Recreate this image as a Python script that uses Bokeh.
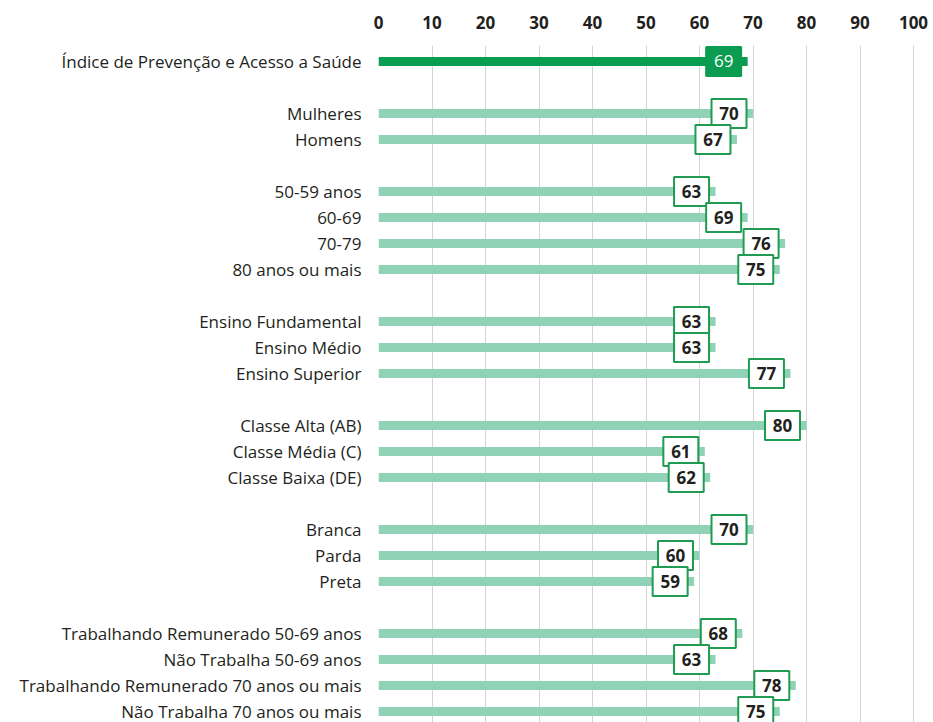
from bokeh.plotting import figure
from bokeh.models import Range1d, FixedTicker, ColumnDataSource
from bokeh.core.properties import value
from bokeh.embed import file_html
from bokeh.resources import INLINE

categories = [
    "Índice de Prevenção e Acesso a Saúde",
    "Mulheres", "Homens",
    "50-59 anos", "60-69", "70-79", "80 anos ou mais",
    "Ensino Fundamental", "Ensino Médio", "Ensino Superior",
    "Classe Alta (AB)", "Classe Média (C)", "Classe Baixa (DE)",
    "Branca", "Parda", "Preta",
    "Trabalhando Remunerado 50-69 anos", "Não Trabalha 50-69 anos",
    "Trabalhando Remunerado 70 anos ou mais", "Não Trabalha 70 anos ou mais",
]
values = [69, 70, 67, 63, 69, 76, 75, 63, 63, 77, 80, 61, 62, 70, 60, 59, 68, 63, 78, 75]
group_sizes = [1, 2, 4, 3, 3, 3, 4]
x_ticks = [0, 10, 20, 30, 40, 50, 60, 70, 80, 90, 100]

# row positions: one blank row between groups
positions = []
k = 0
for g in group_sizes:
    for _ in range(g):
        positions.append(k)
        k += 1
    k += 1

FONT = "Open Sans"
DARK = "#0a9c50"
LIGHT = "#8fd2b5"
BORDER = "#1f9b52"
TXT = "#231f20"

PX = 5.35          # pixels per unit
ROW = 26.0         # pixels per row

p = figure(width=933, height=722, frame_width=545, frame_height=677,
           x_range=Range1d(0, 545 / PX), y_range=Range1d(25.42, -0.615),
           x_axis_location="above", output_backend="svg", toolbar_location=None,
           min_border_left=378, min_border_right=10, min_border_top=45, min_border_bottom=0)
p.outline_line_color = None
p.background_fill_color = "white"

# grid
p.xgrid.ticker = FixedTicker(ticks=x_ticks)
p.xgrid.grid_line_color = "#d4d4d4"
p.xgrid.grid_line_width = 1
p.ygrid.grid_line_color = None

# x axis on top
p.xaxis.ticker = FixedTicker(ticks=x_ticks)
p.xaxis.axis_line_color = None
p.xaxis.major_tick_line_color = None
p.xaxis.minor_tick_line_color = None
p.xaxis.major_tick_out = 0
p.xaxis.major_label_standoff = 17
p.xaxis.major_label_text_font = FONT
p.xaxis.major_label_text_font_style = "bold"
p.xaxis.major_label_text_font_size = "17px"
p.xaxis.major_label_text_color = TXT

# y axis labels
p.yaxis.ticker = FixedTicker(ticks=positions)
p.yaxis.major_label_overrides = {pos: c for pos, c in zip(positions, categories)}
p.yaxis.axis_line_color = None
p.yaxis.major_tick_line_color = None
p.yaxis.minor_tick_line_color = None
p.yaxis.major_tick_out = 0
p.yaxis.major_label_standoff = 17
p.yaxis.major_label_text_font = FONT
p.yaxis.major_label_text_font_size = "17px"
p.yaxis.major_label_text_color = TXT

bar_h = 9 / ROW
box_w = 35 / PX
box_h = 29 / ROW
box_off = 24 / PX

main = ColumnDataSource(dict(y=positions[:1], v=values[:1],
                             bx=[v - box_off for v in values[:1]],
                             t=[str(v) for v in values[:1]]))
rest = ColumnDataSource(dict(y=positions[1:], v=values[1:],
                             bx=[v - box_off for v in values[1:]],
                             t=[str(v) for v in values[1:]]))

p.hbar(y="y", left=0, right="v", height=bar_h, source=rest, fill_color=LIGHT,
       line_color=None, fill_alpha=1)
p.hbar(y="y", left=0, right="v", height=bar_h, source=main, fill_color=DARK,
       line_color=None)

p.rect(x="bx", y="y", width=box_w, height=box_h, source=rest, fill_color="white",
       line_color=BORDER, line_width=2)
p.rect(x="bx", y="y", width=box_w, height=box_h, source=main, fill_color=DARK,
       line_color=DARK, line_width=2)

p.text(x="bx", y="y", text="t", source=rest, text_align="center", text_baseline="middle",
       text_font=value(FONT), text_font_style="bold", text_font_size="17px", text_color=TXT)
p.text(x="bx", y="y", text="t", source=main, text_align="center", text_baseline="middle",
       text_font=value(FONT), text_font_size="17px", text_color="white")

open("out.html", "w").write(file_html(p, INLINE))
